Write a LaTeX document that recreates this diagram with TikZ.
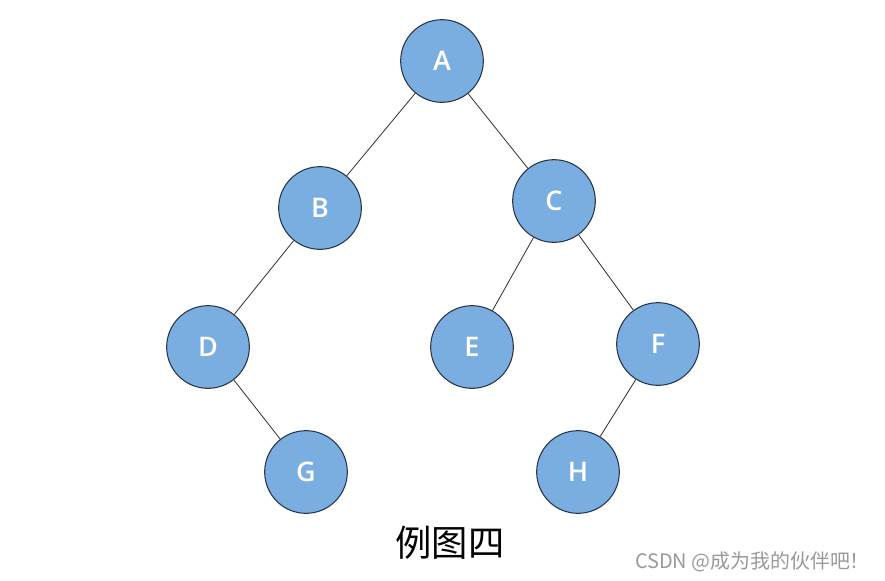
\documentclass[tikz,border=0pt]{standalone}
\usepackage{fontspec}
\setsansfont{Open Sans}[BoldFont={Open Sans Semibold}]
\newfontfamily\cjk{Noto Sans CJK SC}
\usepackage{xcolor}
\usepackage{tikz}
\usetikzlibrary{positioning}

\definecolor{nodeblue}{RGB}{123,174,224}
\definecolor{nodeedge}{RGB}{40,52,72}

\begin{document}
\begin{tikzpicture}[x=0.03cm, y=-0.03cm,
    treenode/.style={circle, draw=nodeedge, line width=0.9pt, fill=nodeblue,
        minimum size=2.48cm, inner sep=0pt, text=white,
        font=\sffamily\bfseries\fontsize{23}{23}\selectfont},
    branch/.style={draw=black!80, line width=0.7pt}]
    \useasboundingbox (0,0) rectangle (885,581);

    % Nodes
    \node[treenode] (a) at (442,61) {A};
    \node[treenode] (b) at (320,208) {B};
    \node[treenode] (c) at (554,201) {C};
    \node[treenode] (d) at (208,347) {D};
    \node[treenode] (e) at (472,347) {E};
    \node[treenode] (f) at (658,344) {F};
    \node[treenode] (g) at (306,472) {G};
    \node[treenode] (h) at (578,472) {H};

    % Branches
    \draw[branch] (a) -- (b);
    \draw[branch] (a) -- (c);
    \draw[branch] (b) -- (d);
    \draw[branch] (d) -- (g);
    \draw[branch] (c) -- (e);
    \draw[branch] (c) -- (f);
    \draw[branch] (f) -- (h);

    % Caption
    \node[font=\cjk\fontsize{31}{31}\selectfont] (caption) at (450,543) {例图四};
    \node[font=\cjk\fontsize{17}{17}\selectfont, text=black!40, anchor=east] (mark) at (874,562) {CSDN @成为我的伙伴吧！};
\end{tikzpicture}
\end{document}
